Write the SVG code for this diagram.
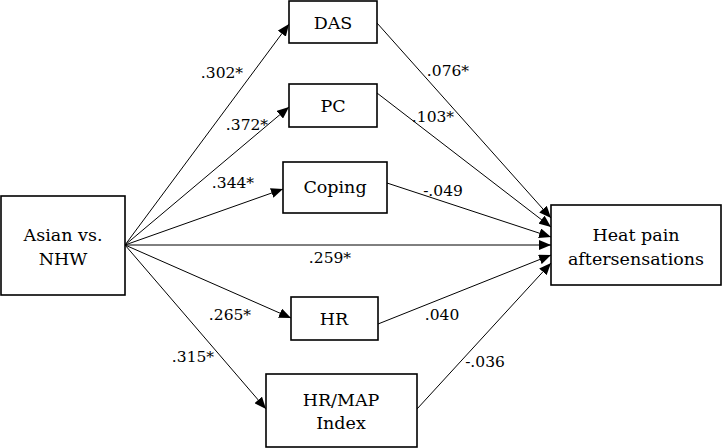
<svg xmlns="http://www.w3.org/2000/svg" width="722" height="448" viewBox="0 0 722 448">
<style>
.box{fill:#fff;stroke:#000;stroke-width:1.6}
.t{font-family:"DejaVu Serif","Liberation Serif",serif;font-size:17.5px;fill:#000;text-anchor:middle}
.l{font-family:"DejaVu Serif","Liberation Serif",serif;font-size:15.5px;fill:#000;text-anchor:middle}
.c{stroke:#000;stroke-width:1;fill:none;marker-end:url(#ah)}
</style>
<defs>
<marker id="ah" markerUnits="userSpaceOnUse" markerWidth="12" markerHeight="10" refX="12" refY="5" orient="auto">
<path d="M0,0 L12,5 L0,10 Z" fill="#000"/>
</marker>
</defs>
<g id="connectors">
<line class="c" x1="125" y1="245" x2="289" y2="24"/>
<line class="c" x1="125" y1="245" x2="289" y2="107"/>
<line class="c" x1="125" y1="245" x2="283" y2="189"/>
<line class="c" x1="125" y1="245" x2="551" y2="245"/>
<line class="c" x1="125" y1="245" x2="291" y2="318"/>
<line class="c" x1="125" y1="245" x2="266" y2="409"/>
<line class="c" x1="377" y1="23" x2="551" y2="218"/>
<line class="c" x1="377" y1="93" x2="551" y2="227"/>
<line class="c" x1="387" y1="183" x2="551" y2="237"/>
<line class="c" x1="378" y1="324" x2="551" y2="255"/>
<line class="c" x1="417" y1="409" x2="551" y2="263"/>
</g>
<g id="labels">
<text class="l" x="222" y="78">.302*</text>
<text class="l" x="247" y="130">.372*</text>
<text class="l" x="233" y="188">.344*</text>
<text class="l" x="448" y="76">.076*</text>
<text class="l" x="433" y="122">.103*</text>
<text class="l" x="443" y="196">-.049</text>
<text class="l" x="330" y="263">.259*</text>
<text class="l" x="230" y="320">.265*</text>
<text class="l" x="193" y="362">.315*</text>
<text class="l" x="442" y="320">.040</text>
<text class="l" x="485" y="367">-.036</text>
</g>
<g id="asian">
<rect class="box" x="1" y="196" width="124" height="99"/>
<text class="t" x="63" y="241">Asian vs.</text>
<text class="t" x="63" y="265">NHW</text>
</g>
<g id="das">
<rect class="box" x="289" y="1" width="88" height="42"/>
<text class="t" x="333" y="29">DAS</text>
</g>
<g id="pc">
<rect class="box" x="289" y="84" width="88" height="43"/>
<text class="t" x="333" y="112">PC</text>
</g>
<g id="coping">
<rect class="box" x="283" y="162" width="104" height="51"/>
<text class="t" x="335" y="193">Coping</text>
</g>
<g id="hr">
<rect class="box" x="291" y="297" width="87" height="43"/>
<text class="t" x="334" y="325">HR</text>
</g>
<g id="hrmap">
<rect class="box" x="266" y="374" width="151" height="73"/>
<text class="t" x="341" y="406">HR/MAP</text>
<text class="t" x="341" y="429">Index</text>
</g>
<g id="heat">
<rect class="box" x="551" y="205" width="170" height="80"/>
<text class="t" x="636" y="241">Heat pain</text>
<text class="t" x="636" y="265">aftersensations</text>
</g>
</svg>
